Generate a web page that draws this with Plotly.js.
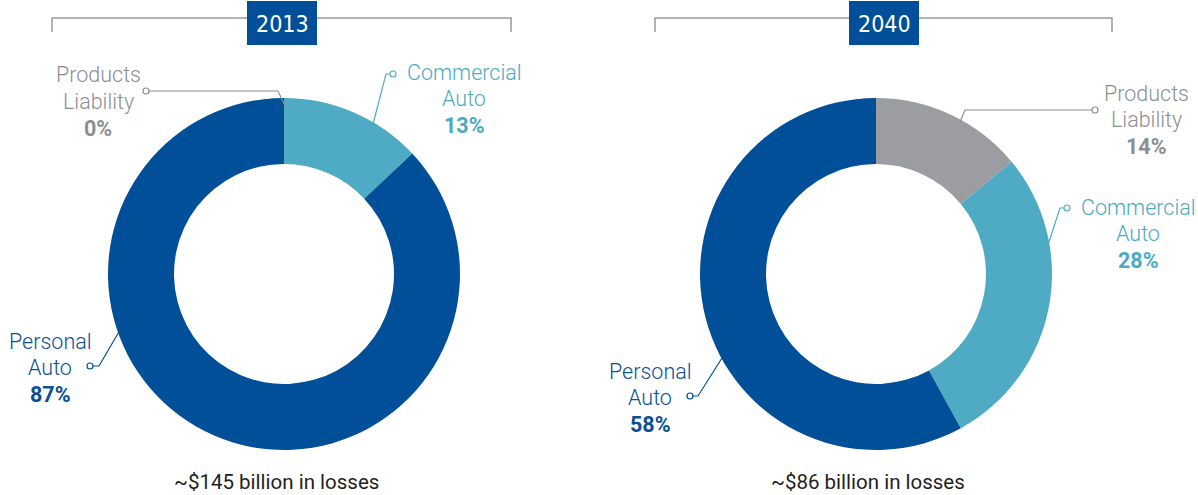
<!DOCTYPE html>
<html>
<head>
<meta charset="utf-8">
<script src="https://cdn.plot.ly/plotly-3.0.1.min.js"></script>
<style>html,body{margin:0;padding:0;background:#fff;}#chart{width:1198px;height:495px;}</style>
</head>
<body>
<div id="chart"></div>
<script>
// ---- data ----
const categories = ['Products Liability', 'Commercial Auto', 'Personal Auto'];
const values2013 = [0, 13, 87];
const values2040 = [14, 28, 58];
const years = ['2013', '2040'];
const totals = ['~$145 billion in losses', '~$86 billion in losses'];

// ---- style ----
const W = 1198, H = 495;
const X = p => p / W;
const Y = p => 1 - p / H;
const sliceColors = ['#9c9da1', '#4eabc3', '#004f98'];
const textColors = ['#8c8e92', '#4aaac4', '#0a4f97'];
const lineColors = ['#8c8e92', '#4eabc3', '#004f98'];
const FONT = 'Roboto, "Open Sans", sans-serif';

const pies = [
  {vals: values2013, cx: 284, cy: 274, r: 176},
  {vals: values2040, cx: 876, cy: 274, r: 176}
];

const data = pies.map(p => ({
  type: 'pie',
  values: p.vals,
  labels: categories,
  sort: false,
  direction: 'clockwise',
  rotation: 0,
  hole: 0.625,
  textinfo: 'none',
  hoverinfo: 'label+percent',
  marker: {colors: sliceColors, line: {width: 0}},
  domain: {x: [X(p.cx - p.r), X(p.cx + p.r)], y: [Y(p.cy + p.r), Y(p.cy - p.r)]},
  showlegend: false
}));

// label placement (pixel positions of label centres and connectors)
const labelPos = [
  [ // 2013
    {x: 98, y: 75, circ: [146, 91], path: [[149, 91], [278, 91], [286, 108]]},
    {x: 464, y: 72, circ: [393, 74], path: [[390, 74], [386, 74], [372, 128]]},
    {x: 50, y: 341, circ: [90, 366], path: [[93, 366], [99, 366], [120, 330]]}
  ],
  [ // 2040
    {x: 1146, y: 93, circ: [1095, 110], path: [[1092, 110], [965, 110], [960, 122]]},
    {x: 1138, y: 207, circ: [1067, 208], path: [[1064, 208], [1060, 208], [1048, 245]]},
    {x: 650, y: 371, circ: [690, 396], path: [[693, 396], [698, 396], [722, 358]]}
  ]
];

const annotations = [];
const shapes = [];
const LS = 26.5;

pies.forEach((p, pi) => {
  categories.forEach((cat, ci) => {
    const pos = labelPos[pi][ci];
    const words = cat.split(' ');
    const lines = [words[0], words[1]];
    lines.forEach((t, li) => {
      annotations.push({
        xref: 'paper', yref: 'paper', x: X(pos.x), y: Y(pos.y + li * LS),
        xanchor: 'center', yanchor: 'middle', showarrow: false, text: t,
        font: {family: FONT, size: 21.5, color: textColors[ci], weight: 300}
      });
    });
    annotations.push({
      xref: 'paper', yref: 'paper', x: X(pos.x), y: Y(pos.y + 2 * LS),
      xanchor: 'center', yanchor: 'middle', showarrow: false,
      text: '<b>' + p.vals[ci] + '%</b>',
      font: {family: FONT, size: 21.5, color: textColors[ci]}
    });
    // connector
    const d = 'M' + pos.path.map(q => X(q[0]) + ',' + Y(q[1])).join(' L');
    shapes.push({type: 'path', xref: 'paper', yref: 'paper', path: d,
      line: {color: lineColors[ci], width: 1.2}});
    shapes.push({type: 'circle', xref: 'paper', yref: 'paper',
      x0: X(pos.circ[0] - 3), x1: X(pos.circ[0] + 3), y0: Y(pos.circ[1] + 3), y1: Y(pos.circ[1] - 3),
      fillcolor: '#ffffff', line: {color: lineColors[ci], width: 1.2}});
  });
});

// headers: bracket + year box
const headers = [
  {l: 52, r: 511, bx0: 247, bx1: 317},
  {l: 655, r: 1112, bx0: 849, bx1: 919}
];
headers.forEach((h, i) => {
  shapes.push({type: 'path', xref: 'paper', yref: 'paper',
    path: 'M' + X(h.l) + ',' + Y(32) + ' L' + X(h.l) + ',' + Y(18) + ' L' + X(h.r) + ',' + Y(18) + ' L' + X(h.r) + ',' + Y(32),
    line: {color: '#9a9a9e', width: 1.5}});
  shapes.push({type: 'rect', xref: 'paper', yref: 'paper',
    x0: X(h.bx0), x1: X(h.bx1), y0: Y(45), y1: Y(1),
    fillcolor: '#004f98', line: {width: 0}});
  annotations.push({xref: 'paper', yref: 'paper', x: X((h.bx0 + h.bx1) / 2), y: Y(24),
    xanchor: 'center', yanchor: 'middle', showarrow: false, text: years[i],
    font: {family: '"Liberation Sans Narrow", "DejaVu Sans Condensed", sans-serif', size: 23, color: '#ffffff'}});
});

// totals
[276, 868].forEach((cx, i) => {
  annotations.push({xref: 'paper', yref: 'paper', x: X(cx), y: Y(482),
    xanchor: 'center', yanchor: 'middle', showarrow: false, text: totals[i],
    font: {family: FONT, size: 20.5, color: '#231f20'}});
});

const layout = {
  width: W, height: H,
  margin: {l: 0, r: 0, t: 0, b: 0},
  paper_bgcolor: '#ffffff', plot_bgcolor: '#ffffff',
  showlegend: false,
  annotations: annotations,
  shapes: shapes
};

Plotly.newPlot('chart', data, layout, {displayModeBar: false});
</script>
</body>
</html>
